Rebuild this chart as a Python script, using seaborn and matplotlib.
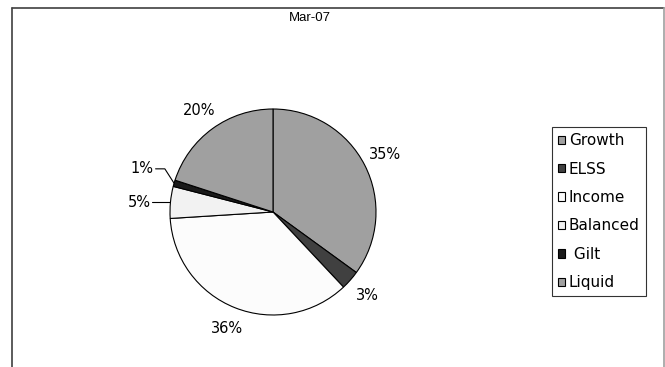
import numpy as np
import matplotlib
matplotlib.use("Agg")
import matplotlib.pyplot as plt
import seaborn as sns
from matplotlib.patches import Patch
from matplotlib.lines import Line2D

# fund allocation, Mar-07
categories = ["Growth", "ELSS", "Income", "Balanced", "Gilt", "Liquid"]
legend_labels = ["Growth", "ELSS", "Income", "Balanced", " Gilt", "Liquid"]
shares = [35, 3, 36, 5, 1, 20]
pct_labels = ["35%", "3%", "36%", "5%", "1%", "20%"]
colors = ["#a0a0a0", "#404040", "#fcfcfc", "#f2f2f2", "#1a1a1a", "#a0a0a0"]
title = "Mar-07"

sns.set_theme(style="white")
plt.rcParams["font.family"] = ["DejaVu Sans"]
plt.rcParams["text.color"] = "black"

W, H = 665, 367
fig = plt.figure(figsize=(W / 100, H / 100), dpi=100)
fig.patch.set_facecolor("white")

# pie axes, centre ~ (273, 212) px, radius ~103 px
cx, cy, r = 273, 212, 103
ax = fig.add_axes([(cx - r) / W, (H - cy - r) / H, 2 * r / W, 2 * r / H])
wedges, _ = ax.pie(shares, colors=colors, startangle=90, counterclock=False,
                   wedgeprops=dict(edgecolor="black", linewidth=0.8))
ax.set_xlim(-1, 1)
ax.set_ylim(-1, 1)
ax.set_aspect("equal")
ax.axis("off")

# percent labels outside the pie, small slices get leader lines
for w, lab, cat in zip(wedges, pct_labels, categories):
    ang = np.deg2rad((w.theta1 + w.theta2) / 2)
    x, y = np.cos(ang), np.sin(ang)
    if cat == "Gilt":
        ty = y + 0.14
        ax.plot([x, -1.05, -1.14], [y, ty, ty], color="black", lw=0.8, clip_on=False)
        ax.text(-1.16, ty, lab, ha="right", va="center", fontsize=10.5,
                color="black", clip_on=False)
    elif cat == "Balanced":
        ax.plot([x, -1.17], [y, y], color="black", lw=0.8, clip_on=False)
        ax.text(-1.19, y, lab, ha="right", va="center", fontsize=10.5,
                color="black", clip_on=False)
    else:
        d = 1.22
        ax.text(d * x, d * y, lab, ha="center", va="center", fontsize=10.5,
                color="black", clip_on=False)

fig.text(310 / W, 1 - 18 / H, title, ha="center", va="center", fontsize=9.5,
         family="Liberation Sans", color="black")

# outer frame (no bottom edge)
fig.add_artist(Line2D([12 / W, 12 / W], [0, 1 - 7.5 / H], color="#404040", lw=1.2))
fig.add_artist(Line2D([12 / W, 664 / W], [1 - 7.5 / H, 1 - 7.5 / H], color="#404040", lw=1.2))
fig.add_artist(Line2D([664 / W, 664 / W], [0, 1 - 7.5 / H], color="#a0a0a0", lw=1.2))

handles = [Patch(facecolor=c, edgecolor="black", linewidth=0.8) for c in colors]
leg = fig.legend(handles, legend_labels, loc="upper left",
                 bbox_to_anchor=(552 / W, 1 - 127 / H), frameon=True,
                 fontsize=11, handlelength=0.45, handleheight=0.45,
                 handletextpad=0.25, labelspacing=0.88, borderpad=0.4,
                 borderaxespad=0, fancybox=False, labelcolor="black")
leg.get_frame().set_edgecolor("black")
leg.get_frame().set_linewidth(0.8)

fig.savefig("out.png", dpi=100)
